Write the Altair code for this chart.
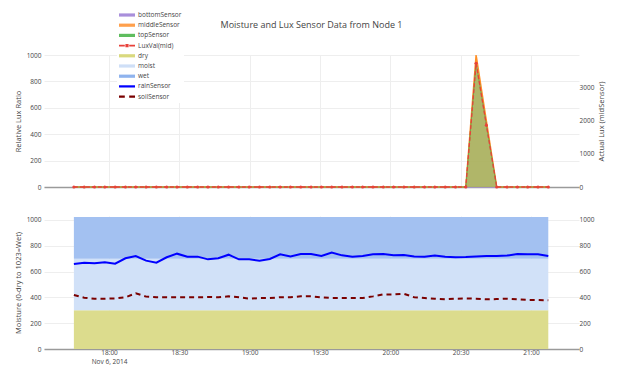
import altair as alt
import pandas as pd

# ---------------- data ----------------
times = [
    "2014-11-06T17:45:00", "2014-11-06T17:49:24", "2014-11-06T17:53:48", "2014-11-06T17:58:12",
    "2014-11-06T18:02:36", "2014-11-06T18:07:00", "2014-11-06T18:11:24", "2014-11-06T18:15:48",
    "2014-11-06T18:20:12", "2014-11-06T18:24:36", "2014-11-06T18:29:00", "2014-11-06T18:33:24",
    "2014-11-06T18:37:48", "2014-11-06T18:42:12", "2014-11-06T18:46:36", "2014-11-06T18:51:00",
    "2014-11-06T18:55:24", "2014-11-06T18:59:48", "2014-11-06T19:04:12", "2014-11-06T19:08:36",
    "2014-11-06T19:13:00", "2014-11-06T19:17:24", "2014-11-06T19:21:48", "2014-11-06T19:26:12",
    "2014-11-06T19:30:36", "2014-11-06T19:35:00", "2014-11-06T19:39:24", "2014-11-06T19:43:48",
    "2014-11-06T19:48:12", "2014-11-06T19:52:36", "2014-11-06T19:57:00", "2014-11-06T20:01:24",
    "2014-11-06T20:05:48", "2014-11-06T20:10:12", "2014-11-06T20:14:36", "2014-11-06T20:19:00",
    "2014-11-06T20:23:24", "2014-11-06T20:27:48", "2014-11-06T20:32:12", "2014-11-06T20:36:36",
    "2014-11-06T20:41:00", "2014-11-06T20:45:24", "2014-11-06T20:49:48", "2014-11-06T20:54:12",
    "2014-11-06T20:58:36", "2014-11-06T21:03:00", "2014-11-06T21:07:24",
]

bottom_sensor = [0, 0, 0, 0, 0, 0, 0, 0, 0, 0, 0, 0, 0, 0, 0, 0, 0, 0, 0, 0, 0, 0, 0, 0,
                 0, 0, 0, 0, 0, 0, 0, 0, 0, 0, 0, 0, 0, 0, 0, 0, 0, 0, 0, 0, 0, 0, 0]
middle_sensor = [0, 0, 0, 0, 0, 0, 0, 0, 0, 0, 0, 0, 0, 0, 0, 0, 0, 0, 0, 0, 0, 0, 0, 0,
                 0, 0, 0, 0, 0, 0, 0, 0, 0, 0, 0, 0, 0, 0, 0, 1000, 500, 0, 0, 0, 0, 0, 0]
top_sensor = [0, 0, 0, 0, 0, 0, 0, 0, 0, 0, 0, 0, 0, 0, 0, 0, 0, 0, 0, 0, 0, 0, 0, 0,
              0, 0, 0, 0, 0, 0, 0, 0, 0, 0, 0, 0, 0, 0, 0, 945, 470, 0, 0, 0, 0, 0, 0]
lux_mid = [0, 0, 0, 0, 0, 0, 0, 0, 0, 0, 0, 0, 0, 0, 0, 0, 0, 0, 0, 0, 0, 0, 0, 0,
           0, 0, 0, 0, 0, 0, 0, 0, 0, 0, 0, 0, 0, 0, 0, 3730, 1860, 0, 0, 0, 0, 0, 0]

rain_sensor = [659, 669, 664, 672, 661, 703, 721, 685, 669, 711, 739, 716, 716, 695, 703, 731,
               695, 695, 685, 698, 734, 718, 736, 736, 721, 747, 726, 716, 721, 734, 736, 726,
               729, 718, 716, 724, 716, 711, 713, 718, 721, 721, 724, 736, 734, 734, 721]
soil_sensor = [419, 398, 390, 390, 392, 401, 432, 406, 401, 401, 401, 401, 401, 403, 401, 408,
               401, 390, 395, 395, 401, 401, 408, 408, 401, 395, 395, 395, 395, 408, 423, 423,
               428, 401, 395, 390, 385, 390, 392, 390, 385, 387, 390, 385, 380, 380, 377]

DRY_MIN = 0
DRY_MAX = 300
MOIST_MAX = 700
WET_MAX = 1023

series_names = ["bottomSensor", "middleSensor", "topSensor", "LuxVal(mid)",
                "dry", "moist", "wet", "rainSensor", "soilSensor"]
series_colors = ["#a98fdb", "#ffa04d", "#5fbd5f", "#e8413a",
                 "#d9d97e", "#cfdff7", "#8fb3ee", "#0000ff", "#7a0000"]

# legend swatch outlines (unit symbol space): thick bar, thin bar, dash-marker-dash, dash dash
BAR = "M-1,-0.4H3V0.4H-1Z"
THIN = "M-1,-0.28H3V0.28H-1Z"
DASH_DOT = "M-1,-0.2H0.45V0.2H-1Z M1.55,-0.2H3V0.2H1.55Z M0.6,-0.42H1.4V0.42H0.6Z"
DASHES = "M-1,-0.3H0.45V0.3H-1Z M1.55,-0.3H3V0.3H1.55Z"
series_shapes = [BAR, BAR, BAR, DASH_DOT, BAR, BAR, BAR, THIN, DASHES]

tick_hours = [(18, 0), (18, 30), (19, 0), (19, 30), (20, 0), (20, 30), (21, 0)]
left_top_ticks = [0, 200, 400, 600, 800, 1000]
right_top_ticks = [0, 1000, 2000, 3000]
bottom_ticks = [0, 200, 400, 600, 800, 1000]

# ---------------- tables ----------------
top_df = pd.DataFrame({
    "time": times, "bottomSensor": bottom_sensor, "middleSensor": middle_sensor,
    "topSensor": top_sensor, "lux": lux_mid,
})
bot_df = pd.DataFrame({
    "time": times, "rain": rain_sensor, "soil": soil_sensor,
    "dry_lo": DRY_MIN, "dry_hi": DRY_MAX, "moist_hi": MOIST_MAX, "wet_hi": WET_MAX,
})
legend_df = pd.DataFrame({"series": series_names, "time": times[0], "value": 0})

FONT = "Open Sans"
W, H_TOP, H_BOT = 535, 132, 133

tick_vals = [alt.DateTime(year=2014, month=11, date=6, hours=h, minutes=m) for h, m in tick_hours]
x_scale = alt.Scale(domain=[
    alt.DateTime(year=2014, month=11, date=6, hours=17, minutes=32, seconds=15),
    alt.DateTime(year=2014, month=11, date=6, hours=21, minutes=20, seconds=30),
])

x_top = alt.X("time:T", scale=x_scale,
              axis=alt.Axis(values=tick_vals, labels=False, ticks=False, title=None,
                            domain=True, domainColor="#9a9a9a", domainWidth=1.5, grid=True))
x_bot = alt.X("time:T", scale=x_scale,
              axis=alt.Axis(values=tick_vals, ticks=False, title=None, domain=True,
                            domainColor="#9a9a9a", domainWidth=1.5, grid=True,
                            labelPadding=0.5, labelLineHeight=8.5,
                            labelExpr="datum.index == 0 ? [timeFormat(datum.value, '%H:%M'), timeFormat(datum.value, '%b %-d, %Y')] : timeFormat(datum.value, '%H:%M')"))

y_top_scale = alt.Scale(domain=[0, 1000])
y_top_axis = alt.Axis(title="Relative Lux Ratio", values=left_top_ticks, format="d", titlePadding=4)
y_lux_scale = alt.Scale(domain=[0, 3980])
y_lux_axis = alt.Axis(title="Actual Lux (midSensor)", orient="right", values=right_top_ticks,
                      format="d", titleAngle=270, titleBaseline="top", titlePadding=4,
                      labelPadding=0)
y_bot_scale = alt.Scale(domain=[0, 1031])
y_bot_axis = alt.Axis(title="Moisture (0-dry to 1023=Wet)", values=bottom_ticks, format="d", titlePadding=4)
y_bot_right = alt.Axis(title=None, orient="right", values=bottom_ticks, format="d", labelPadding=0)

legend = alt.Legend(
    orient="none", legendX=73, legendY=-46, title=None,
    symbolSize=64, symbolStrokeWidth=0,
    labelFont=FONT, labelFontSize=6.5, labelColor="#444",
    rowPadding=2.2, padding=2, fillColor="white", labelOffset=11,
)

legend_layer = alt.Chart(legend_df).transform_filter("false").mark_point(
    filled=True, opacity=1
).encode(
    x=x_top,
    y=alt.Y("value:Q", scale=y_top_scale, axis=y_top_axis),
    color=alt.Color("series:N", scale=alt.Scale(domain=series_names, range=series_colors), legend=legend),
    shape=alt.Shape("series:N", scale=alt.Scale(domain=series_names, range=series_shapes), legend=legend),
)

base_top = alt.Chart(top_df)
a_bottom = base_top.mark_area(color="#c9b8ea", line={"color": "#a98fdb", "strokeWidth": 1.2}).encode(
    x=x_top, y=alt.Y("bottomSensor:Q", scale=y_top_scale, axis=y_top_axis))
a_middle = base_top.mark_area(color="#ffb46b", line={"color": "#ff8f26", "strokeWidth": 1.5}).encode(
    x=x_top, y=alt.Y("middleSensor:Q", scale=y_top_scale, axis=y_top_axis))
a_top = base_top.mark_area(color="#8fae55", line={"color": "#74a845", "strokeWidth": 1.0}).encode(
    x=x_top, y=alt.Y("topSensor:Q", scale=y_top_scale, axis=y_top_axis))
lux_line = base_top.mark_line(
    color="#e8413a", strokeDash=[4, 2], strokeWidth=1.3,
    point=alt.OverlayMarkDef(color="#e8413a", size=10, filled=True),
).encode(x=x_top, y=alt.Y("lux:Q", scale=y_lux_scale, axis=y_lux_axis))

top_chart = alt.layer(
    alt.layer(legend_layer, a_bottom, a_middle, a_top), lux_line
).resolve_scale(y="independent").properties(
    width=W, height=H_TOP,
    title=alt.TitleParams("Moisture and Lux Sensor Data from Node 1", frame="group",
                          anchor="middle", baseline="middle", offset=18),
)

base_bot = alt.Chart(bot_df)
dry = base_bot.mark_area(color="#dcdc8d").encode(
    x=x_bot, y=alt.Y("dry_hi:Q", scale=y_bot_scale, axis=y_bot_axis), y2="dry_lo:Q")
moist = base_bot.mark_area(color="#d1e1f8").encode(
    x=x_bot, y=alt.Y("moist_hi:Q", scale=y_bot_scale, axis=y_bot_axis), y2="dry_hi:Q")
wet = base_bot.mark_area(color="#a3c1f1").encode(
    x=x_bot, y=alt.Y("wet_hi:Q", scale=y_bot_scale, axis=y_bot_axis), y2="moist_hi:Q")
rain = base_bot.mark_line(color="#0000ff", strokeWidth=2).encode(
    x=x_bot, y=alt.Y("rain:Q", scale=y_bot_scale, axis=y_bot_axis))
soil = base_bot.mark_line(color="#7a0000", strokeDash=[5, 4], strokeWidth=2).encode(
    x=x_bot, y=alt.Y("soil:Q", scale=y_bot_scale, axis=y_bot_axis))
dup = base_bot.mark_line(strokeOpacity=0).encode(
    x=x_bot, y=alt.Y("rain:Q", scale=y_bot_scale, axis=y_bot_right))

bot_chart = alt.layer(
    alt.layer(dry, moist, wet, rain, soil), dup
).resolve_scale(y="independent").properties(width=W, height=H_BOT)

chart = alt.vconcat(top_chart, bot_chart, spacing=25).properties(
    padding={"left": 6, "top": 1, "right": 5, "bottom": 5},
    background="white",
).configure_view(strokeOpacity=0).configure_axis(
    labelFont=FONT, labelFontSize=6.5, labelColor="#444",
    titleFont=FONT, titleFontSize=7.5, titleColor="#444", titleFontWeight="normal",
    gridColor="#eeeeee", gridWidth=1, ticks=False, domain=False, labelPadding=3,
).configure_title(font=FONT, fontSize=9, color="#444", fontWeight="normal")

chart.save("out.html", embed_options={"renderer": "svg", "actions": False})
